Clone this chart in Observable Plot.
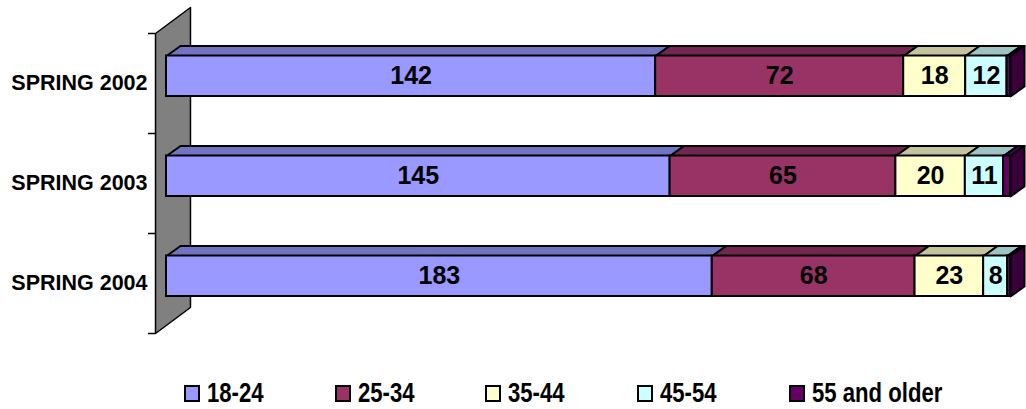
<!DOCTYPE html>
<html>
<head>
<meta charset="utf-8">
<script src="https://cdn.jsdelivr.net/npm/d3@7"></script>
<script src="https://cdn.jsdelivr.net/npm/@observablehq/plot@0.6"></script>
<style>
  html, body { margin: 0; padding: 0; background: #fff; }
  #chart { width: 1026px; }
  #legend { position: relative; width: 1026px; height: 44px; font-family: "Liberation Sans", Arial, sans-serif; font-weight: bold; font-size: 28px; color: #000; }
  .item { position: absolute; top: 6px; height: 44px; display: flex; align-items: center; }
  .swatch { width: 12px; height: 13px; border: 2px solid #000; margin-right: 7px; flex: none; }
  .label { display: inline-block; transform: scaleX(0.79); transform-origin: left center; white-space: nowrap; }
</style>
</head>
<body>
<div id="chart"></div>
<div id="legend"></div>
<script>
// Listeners by age group, per survey period
const years = ["SPRING 2002", "SPRING 2003", "SPRING 2004"];
const ageGroups = ["18-24", "25-34", "35-44", "45-54", "55 and older"];
const age18to24 = [142, 145, 183];
const age25to34 = [72, 65, 68];
const age35to44 = [18, 20, 23];
const age45to54 = [12, 11, 8];
const age55plus = [1, 2, 1];
const labelled = [true, true, true, true, false];

const frontColors = ["#9999FF", "#993366", "#FFFFCC", "#CCFFFF", "#660066"];
const topColors = ["#7373C4", "#732650", "#C4C49C", "#9CC4C4", "#4D004D"];
const sideColor = "#3A003A";
const wallColor = "#808080";

const series = [age18to24, age25to34, age35to44, age45to54, age55plus];

// 3D geometry (x in percent of row total, y in row units)
const DX = 1.66, DY = 0.10;          // bar depth offset
const BAR_LO = 0.37, BAR_HI = 0.775; // front face within row band
const WALL_X0 = -1.30, WALL_X1 = 2.84, WALL_DY = 0.26;
const TICK_LEN = 0.83;

const segments = [];
years.forEach((year, i) => {
  const k = years.length - 1 - i;
  const total = d3.sum(series, s => s[i]);
  let cum = 0;
  series.forEach((vals, j) => {
    const x1 = cum / total * 100;
    cum += vals[i];
    const x2 = cum / total * 100;
    segments.push({year, group: ageGroups[j], j, value: vals[i], x1, x2, y1: k + BAR_LO, y2: k + BAR_HI, last: j === series.length - 1});
  });
});

// polygons: wall, then top faces and the right-hand side face of each bar
const wallPoly = [[WALL_X0, 0], [WALL_X0, years.length], [WALL_X1, years.length + WALL_DY], [WALL_X1, WALL_DY]]
  .map(([x, y]) => ({id: 0, x, y, fill: wallColor}));
const facePolys = [];
let pid = 1;
segments.forEach(s => {
  const id = pid++;
  [[s.x1, s.y2], [s.x2, s.y2], [s.x2 + DX, s.y2 + DY], [s.x1 + DX, s.y2 + DY]]
    .forEach(([x, y]) => facePolys.push({id, x, y, fill: topColors[s.j]}));
  if (s.last) {
    const id2 = pid++;
    [[s.x2, s.y1], [s.x2, s.y2], [s.x2 + DX, s.y2 + DY], [s.x2 + DX, s.y1 + DY]]
      .forEach(([x, y]) => facePolys.push({id: id2, x, y, fill: sideColor}));
  }
});

const rows = years.map((year, i) => ({year, k: years.length - 1 - i}));

const plot = Plot.plot({
  width: 1026,
  height: 365,
  marginLeft: 0, marginRight: 0, marginTop: 0, marginBottom: 0,
  style: {fontFamily: "'Liberation Sans', Arial, sans-serif", color: "#000", background: "#fff"},
  x: {domain: [0, 100], range: [166, 1010], axis: null},
  y: {domain: [0, years.length], range: [333, 33], axis: null},
  color: {type: "identity"},
  marks: [
    Plot.line(wallPoly, {x: "x", y: "y", z: "id", fill: "fill", stroke: "#000", strokeWidth: 1.5, curve: "linear-closed", strokeLinejoin: "round"}),
    Plot.ruleY(d3.range(years.length + 1), {x1: WALL_X0 - TICK_LEN, x2: WALL_X0, stroke: "#000", strokeWidth: 1.5}),
    Plot.text(rows, {x: WALL_X0 - TICK_LEN, dx: -1, y: d => d.k + 0.5, text: "year", textAnchor: "end", fontSize: 21.5, fontWeight: "bold", fill: "#000"}),
    Plot.line(facePolys, {x: "x", y: "y", z: "id", fill: "fill", stroke: "#000", strokeWidth: 2, curve: "linear-closed", strokeLinejoin: "round"}),
    Plot.rect(segments, {x1: "x1", x2: "x2", y1: "y1", y2: "y2", fill: d => frontColors[d.j], stroke: "#000", strokeWidth: 2}),
    Plot.text(segments.filter(d => labelled[d.j]), {x: d => (d.x1 + d.x2) / 2, y: d => (d.y1 + d.y2) / 2, text: d => String(d.value), fontSize: 25, fontWeight: "bold", fill: "#000"})
  ]
});
document.getElementById("chart").appendChild(plot);

// legend
const legendX = [184, 335, 485, 637, 789];
const legend = document.getElementById("legend");
ageGroups.forEach((g, j) => {
  const item = document.createElement("div");
  item.className = "item";
  item.style.left = legendX[j] + "px";
  const sw = document.createElement("div");
  sw.className = "swatch";
  sw.style.background = frontColors[j];
  const label = document.createElement("span");
  label.className = "label";
  label.textContent = g;
  item.appendChild(sw);
  item.appendChild(label);
  legend.appendChild(item);
});
</script>
</body>
</html>
